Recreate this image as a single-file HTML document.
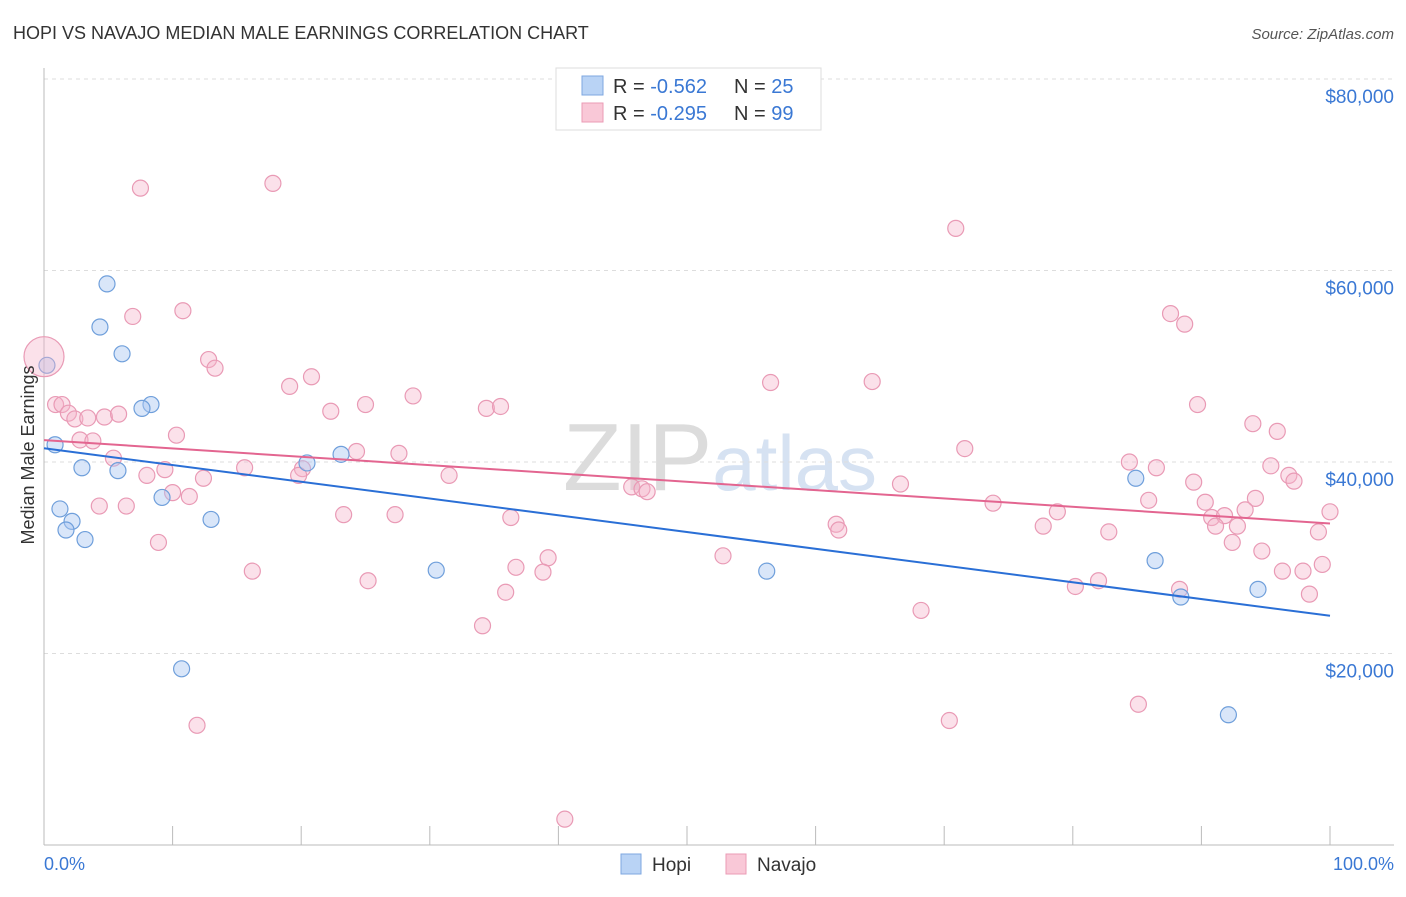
<!DOCTYPE html>
<html><head><meta charset="utf-8"><style>
body{margin:0;background:#fff;font-family:"Liberation Sans",sans-serif;}
svg text{font-family:"Liberation Sans",sans-serif;}
</style></head><body>
<svg id="chart" width="1406" height="892" xmlns="http://www.w3.org/2000/svg">
<text x="13" y="39" font-size="18" fill="#333">HOPI VS NAVAJO MEDIAN MALE EARNINGS CORRELATION CHART</text>
<text x="1394" y="39" font-size="15" fill="#555" text-anchor="end" font-style="italic">Source: ZipAtlas.com</text>
<text x="720" y="490" font-size="96" fill="#e4e4e4" text-anchor="middle" font-family="Liberation Serif"><tspan fill="#dcdcdc">ZIP</tspan><tspan fill="#d6e2f2" font-family="Liberation Sans" font-size="78">atlas</tspan></text>
<g id="grid"></g>
<g id="axes"></g>
<g id="points"></g>
<g id="trends"></g>
<text transform="translate(34,455) rotate(-90)" font-size="18" fill="#333" text-anchor="middle">Median Male Earnings</text>
<text x="44" y="870" font-size="18" fill="#3a78d4">0.0%</text>
<text x="1394" y="870" font-size="18" fill="#3a78d4" text-anchor="end">100.0%</text>
<g>
<rect x="556" y="68" width="265" height="62" fill="#fff" stroke="#ddd"/>
<rect x="582" y="76" width="21" height="19" fill="#b9d3f5" stroke="#7ea7e0"/>
<text x="613" y="93" font-size="20" fill="#333">R = <tspan fill="#3a78d4">-0.562</tspan><tspan x="734">N = </tspan><tspan fill="#3a78d4">25</tspan></text>
<rect x="582" y="103" width="21" height="19" fill="#f9c8d7" stroke="#eb9bb6"/>
<text x="613" y="120" font-size="20" fill="#333">R = <tspan fill="#3a78d4">-0.295</tspan><tspan x="734">N = </tspan><tspan fill="#3a78d4">99</tspan></text>
</g>
<g>
<rect x="621" y="854" width="20" height="20" fill="#b9d3f5" stroke="#7ea7e0"/>
<text x="652" y="871" font-size="19" fill="#333">Hopi</text>
<rect x="726" y="854" width="20" height="20" fill="#f9c8d7" stroke="#eb9bb6"/>
<text x="757" y="871" font-size="19" fill="#333">Navajo</text>
</g>
</svg>
<script>
const yTicks=[20000,40000,60000,80000];
const yTickLabels=["$20,000","$40,000","$60,000","$80,000"];
const xTicks=[0,10,20,30,40,50,60,70,80,90,100];
const hopiX=[4.9,4.35,6.07,0.23,8.32,7.62,0.86,2.95,5.75,20.45,23.1,9.18,1.24,2.18,1.71,3.19,12.99,30.5,56.2,10.7,84.9,86.4,88.4,94.4,92.1];
const hopiY=[58.6,54.1,51.3,50.1,46.0,45.6,41.8,39.4,39.1,39.9,40.8,36.3,35.1,33.8,32.9,31.9,34.0,28.7,28.6,18.4,38.3,29.7,25.9,26.7,13.6];
const navX=[7.5,17.8,70.9,10.8,6.9,87.6,88.7,12.8,13.3,20.8,19.1,28.7,25.0,22.3,34.4,35.5,56.5,64.4,89.7,0.9,1.4,1.9,2.4,3.4,4.7,5.8,10.3,2.8,3.8,5.4,94.0,95.9,24.3,27.6,71.6,9.4,8.0,15.6,20.1,19.8,31.5,12.4,84.4,86.5,95.4,96.8,97.2,89.4,10.0,11.3,45.7,46.5,46.9,66.6,85.9,90.3,94.2,93.4,73.8,78.8,4.3,6.4,23.3,27.3,36.3,90.8,91.8,100,61.6,61.8,77.7,91.1,92.8,82.8,99.1,8.9,92.4,39.2,52.8,94.7,36.7,38.8,16.2,99.4,96.3,97.9,25.2,80.2,82.0,88.3,35.9,98.4,68.2,34.1,11.9,70.4,85.1,40.5];
const navY=[68.6,69.1,64.4,55.8,55.2,55.5,54.4,50.7,49.8,48.9,47.9,46.9,46.0,45.3,45.6,45.8,48.3,48.4,46.0,46.0,46.0,45.1,44.5,44.6,44.7,45.0,42.8,42.3,42.2,40.4,44.0,43.2,41.1,40.9,41.4,39.2,38.6,39.4,39.3,38.6,38.6,38.3,40.0,39.4,39.6,38.6,38.0,37.9,36.8,36.4,37.4,37.2,36.9,37.7,36.0,35.8,36.2,35.0,35.7,34.8,35.4,35.4,34.5,34.5,34.2,34.2,34.4,34.8,33.5,32.9,33.3,33.3,33.3,32.7,32.7,31.6,31.6,30.0,30.2,30.7,29.0,28.5,28.6,29.3,28.6,28.6,27.6,27.0,27.6,26.7,26.4,26.2,24.5,22.9,12.5,13.0,14.7,2.7];
const sx=p=>44+p*12.86;
const sy=v=>845-v*191.5/20000;
const NS="http://www.w3.org/2000/svg";
function mk(tag,attrs,parent){const e=document.createElementNS(NS,tag);for(const k in attrs)e.setAttribute(k,attrs[k]);parent.appendChild(e);return e;}
const grid=document.getElementById('grid'),axes=document.getElementById('axes'),pts=document.getElementById('points'),tr=document.getElementById('trends');
yTicks.forEach((t,i)=>{
 const l=mk('line',{x1:44,x2:1394,y1:sy(t),y2:sy(t),stroke:'#ddd','stroke-dasharray':'4,4'},grid);
 
 
 const tx=mk('text',{x:1394,y:sy(t)+24,'font-size':19,fill:'#3a78d4','text-anchor':'end'},grid);
 tx.textContent=yTickLabels[i];
 
 
});
const ax=mk('line',{x1:44,x2:44,y1:68,y2:845,stroke:'#bbb'},axes);


const bx=mk('line',{x1:44,x2:1394,y1:845,y2:845,stroke:'#bbb'},axes);


xTicks.forEach(t=>{
 const l=mk('line',{x1:sx(t),x2:sx(t),y1:826,y2:845,stroke:'#bbb'},axes);
 
 
});
function drawSeries(X,Y,fill,stroke,name){
 X.forEach((x,i)=>{
  const r=(name==='navajo-point'&&x===0)?20:8;
  const c=mk('circle',{cx:sx(x),cy:sy(Y[i]*1000),r:r,fill:fill,stroke:stroke,'stroke-width':1.2},pts);
  
  
 });
}
drawSeries(navX,navY,'rgba(246,180,202,0.4)','#e99ab5','navajo-point');
drawSeries(hopiX,hopiY,'rgba(170,200,242,0.45)','#6f9fdb','hopi-point');
drawSeries([0],[51.0],'rgba(246,180,202,0.4)','#e99ab5','navajo-point');
function fit(X,Y){const n=X.length;let mx=0,my=0;X.forEach((x,i)=>{mx+=x;my+=Y[i];});mx/=n;my/=n;let sxy=0,sxx=0;X.forEach((x,i)=>{sxy+=(x-mx)*(Y[i]-my);sxx+=(x-mx)*(x-mx);});const b=sxy/sxx;return [my-b*mx,b];}
[[hopiX,hopiY,'#2a6fd6','hopi-trend-line'],[navX.concat([0]),navY.concat([51.0]),'#e36590','navajo-trend-line']].forEach(s=>{
 const [a,b]=fit(s[0],s[1]);
 const l=mk('line',{x1:sx(0),y1:sy(a*1000),x2:sx(100),y2:sy((a+b*100)*1000),stroke:s[2],'stroke-width':2},tr);
 
 
});
</script>
</body></html>
